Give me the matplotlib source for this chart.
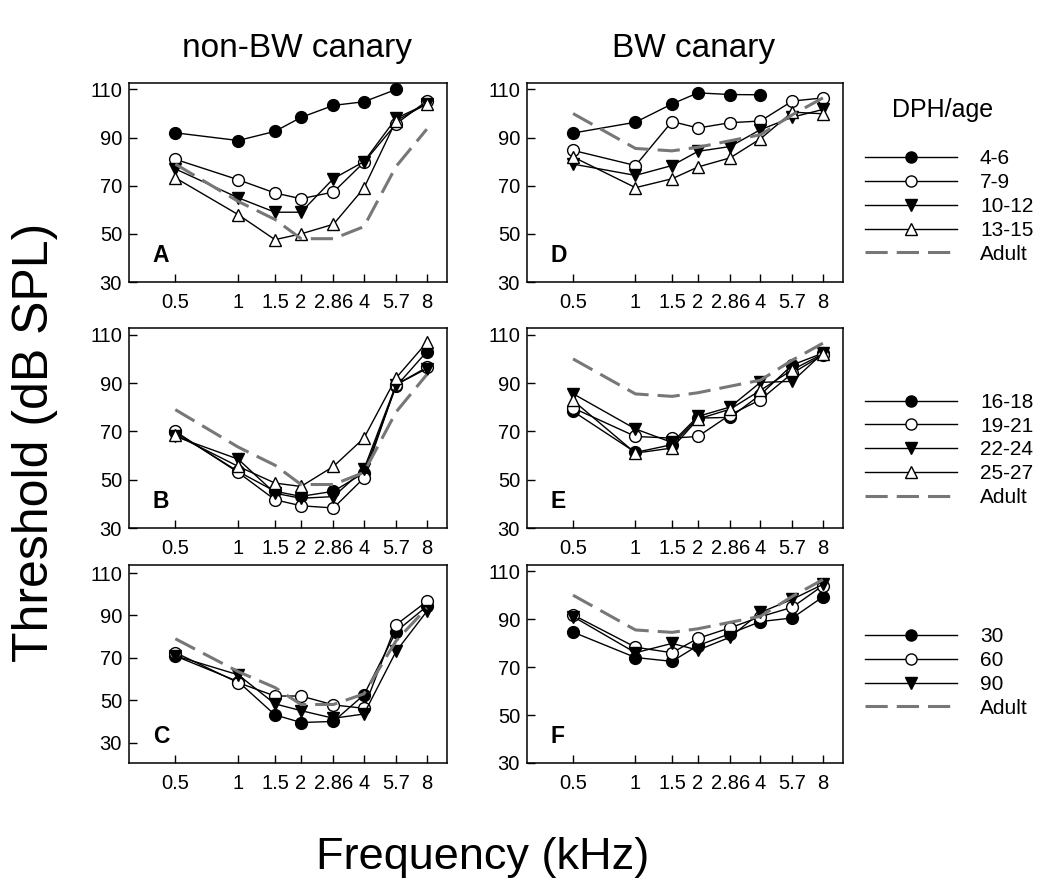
import numpy as np
import matplotlib
matplotlib.use("Agg")
import matplotlib.pyplot as plt
from matplotlib.lines import Line2D

plt.rcParams['font.family'] = ['Liberation Sans', 'DejaVu Sans']
plt.rcParams['lines.scale_dashes'] = False

nan = np.nan
freqs = [0.5, 1, 1.5, 2, 2.86, 4, 5.7, 8]
freq_labels = ['0.5', '1', '1.5', '2', '2.86', '4', '5.7', '8']
y_ticks = [30, 50, 70, 90, 110]

adult_nonbw = [79, 63.5, 56, 48, 48, 53, 78, 93.5]
adult_bw = [100, 85.5, 84.5, 86, 88.7, 91.2, 99.5, 106.5]

# Panel A (non-BW, young)
a_4_6 = [92, 88.8, 92.6, 98.4, 103.4, 104.9, 110, nan]
a_7_9 = [81, 72.5, 67, 64.6, 67.4, 79.7, 95.7, 105.2]
a_10_12 = [77, 65, 59, 59, 73, 80, 98, 104]
a_13_15 = [73.3, 58, 47.6, 50, 54, 69, 97, 104]

# Panel B
b_16_18 = [69.6, 53.4, 45.2, 43.1, 45.2, 52.8, 88.6, 103]
b_19_21 = [70, 53, 41.7, 39.2, 38.3, 50.7, 89.3, 96.5]
b_22_24 = [67.9, 58.5, 44.4, 42.3, 43, 54.3, 89.3, 96]
b_25_27 = [68.6, 55.5, 48.6, 47.2, 55.5, 67.2, 92.1, 106.8]

# Panel C
c_30 = [70.9, 58.8, 43.1, 39.5, 40, 52.5, 82.4, 94.3]
c_60 = [72.5, 58.3, 52, 52, 47.8, 46.2, 85.6, 96.6]
c_90 = [71, 62, 48.3, 45.1, 41.5, 43.5, 73, 91.9]

# Panel D (BW, young)
d_4_6 = [91.9, 96.4, 104, 108.6, 107.9, 107.8, nan, nan]
d_7_9 = [84.7, 78.4, 96.7, 94, 96.2, 96.9, 105.2, 106.5]
d_10_12 = [79, 74.3, 78.4, 84.3, 86.3, 93.3, 98.5, 101.7]
d_13_15 = [82, 69.2, 72.9, 77.8, 81.6, 89.5, 100.6, 99.9]

# Panel E
e_16_18 = [78.3, 61.3, 64.5, 75.5, 75.8, 85.2, 97.5, 102.4]
e_19_21 = [79.7, 67.9, 67.2, 67.9, 76.9, 83.1, 94.1, 101.7]
e_22_24 = [85.6, 71, 65.4, 76.2, 80.1, 90.3, 90.7, 102.4]
e_25_27 = [82.8, 61, 63.1, 75.1, 79.2, 87, 95.5, 102.1]

# Panel F
f_30 = [84.6, 74, 72.4, 79, 84, 89, 90.5, 99.3]
f_60 = [91.8, 78.3, 76, 82, 86.4, 91, 95, 104]
f_90 = [91.1, 76, 79.9, 77.1, 82.5, 92.8, 98.3, 104.5]

labels_row1 = ['4-6', '7-9', '10-12', '13-15']
labels_row2 = ['16-18', '19-21', '22-24', '25-27']
labels_row3 = ['30', '60', '90']

styles = [dict(marker='o', mfc='black'),
          dict(marker='o', mfc='white'),
          dict(marker='v', mfc='black'),
          dict(marker='^', mfc='white')]

ADULT_COLOR = '#777777'
ADULT_KW = dict(color=ADULT_COLOR, lw=2.2, dashes=(16, 6.5))

W, H = 1050, 892
fig = plt.figure(figsize=(W / 100, H / 100), dpi=100)

cols = [(129, 447), (527, 843)]
rows = [(83, 282, (30, 112.7)), (328, 528, (30, 112.8)), (565, 763, (20.4, 113.8))]
rows_F_ylim = (30, 112.6)

panels = [
    ('A', 0, 0, [a_4_6, a_7_9, a_10_12, a_13_15], adult_nonbw),
    ('B', 1, 0, [b_16_18, b_19_21, b_22_24, b_25_27], adult_nonbw),
    ('C', 2, 0, [c_30, c_60, c_90], adult_nonbw),
    ('D', 0, 1, [d_4_6, d_7_9, d_10_12, d_13_15], adult_bw),
    ('E', 1, 1, [e_16_18, e_19_21, e_22_24, e_25_27], adult_bw),
    ('F', 2, 1, [f_30, f_60, f_90], adult_bw),
]

for letter, r, c, series, adult in panels:
    x0, x1 = cols[c]
    top, bot, ylim = rows[r]
    if letter == 'F':
        ylim = rows_F_ylim
    ax = fig.add_axes([x0 / W, 1 - bot / H, (x1 - x0) / W, (bot - top) / H])
    for s, st in zip(series, styles):
        ax.plot(freqs, s, color='black', lw=1.0, ms=8.5, mec='black', mew=1.0,
                **st, zorder=3)
    ax.plot(freqs, adult, zorder=4, **ADULT_KW)
    ax.set_xscale('log', base=2)
    ax.set_xlim(0.3, 10.0)
    ax.set_ylim(*ylim)
    ax.set_xticks(freqs)
    ax.set_xticklabels(freq_labels)
    ax.minorticks_off()
    ax.set_yticks(y_ticks)
    ax.tick_params(direction='in', length=6, width=1.0, labelsize=14.5,
                   pad=5)
    ax.tick_params(axis='x', pad=8)
    for sp in ax.spines.values():
        sp.set_linewidth(1.1)
    ax.text(0.075, 0.10, letter, transform=ax.transAxes, fontsize=16.5,
            fontweight='bold', ha='left', va='baseline')

# column titles
fig.text(297 / W, 1 - 48 / H, 'non-BW canary', fontsize=24, ha='center', va='center')
fig.text(694 / W, 1 - 48 / H, 'BW canary', fontsize=24, ha='center', va='center')

# axis labels
fig.text(35 / W, 1 - 442 / H, 'Threshold (dB SPL)', fontsize=36, rotation=90,
         ha='center', va='center')
fig.text(483 / W, 1 - 858 / H, 'Frequency (kHz)', fontsize=32.5, ha='center', va='center')

# legends
fig.text(943 / W, 1 - 110 / H, 'DPH/age', fontsize=18, ha='center', va='center')


def make_handles(labels):
    hs = []
    for lab, st in zip(labels, styles):
        hs.append(Line2D([], [], color='black', lw=1.0, ms=8, mec='black', mew=1.0, **st))
    hs.append(Line2D([], [], **ADULT_KW))
    return hs, list(labels) + ['Adult']


leg_centers = [206.5, 450, 672.5]
for labels, yc in zip([labels_row1, labels_row2, labels_row3], leg_centers):
    hs, labs = make_handles(labels)
    leg = fig.legend(hs, labs, loc='center left', bbox_to_anchor=(865 / W, 1 - yc / H),
                     frameon=False, fontsize=15, handlelength=4.42, handletextpad=1.1,
                     labelspacing=0.23, borderpad=0, borderaxespad=0)

fig.savefig('out.png', dpi=100)
